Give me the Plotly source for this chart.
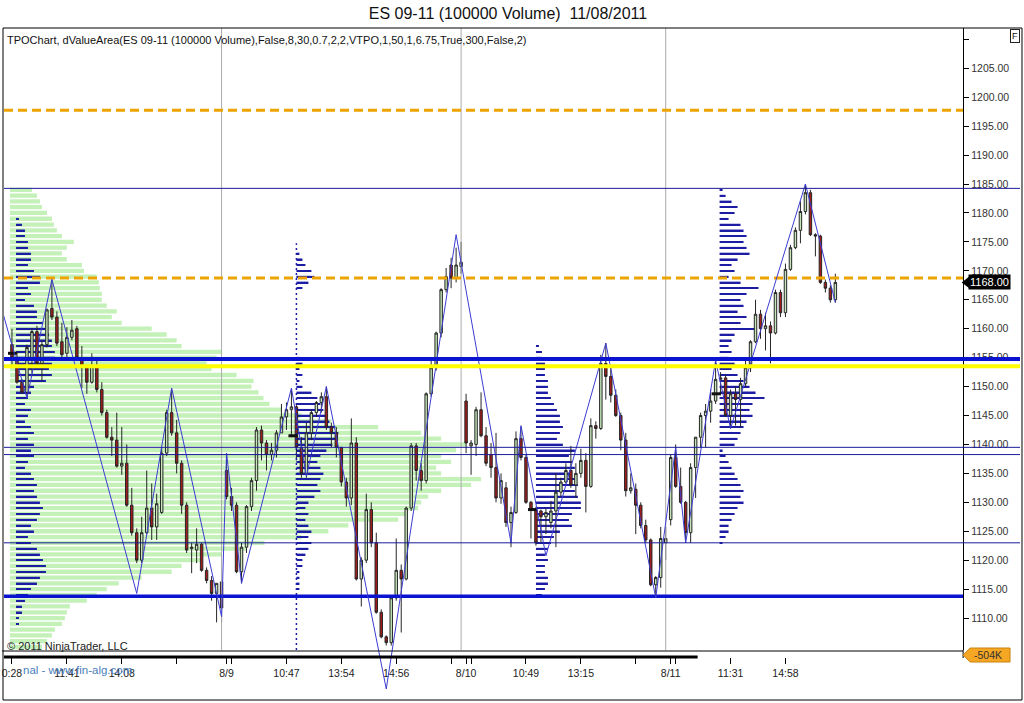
import plotly.graph_objects as go

# ---------------- data ----------------
bar_open = [1157.25, 1155.0, 1150.75, 1149.0, 1155.0, 1159.5, 1154.0, 1157.25, 1163.5, 1162.0,
            1157.75, 1155.75, 1158.5, 1160.0, 1155.0, 1153.5, 1150.75, 1153.5, 1149.5, 1145.5,
            1141.25, 1140.75, 1136.25, 1136.75, 1129.5, 1124.75, 1120.0, 1124.75, 1129.0, 1125.75,
            1128.25, 1138.5, 1145.5, 1142.0, 1136.75, 1129.5, 1122.0, 1121.75, 1122.75, 1118.25,
            1116.5, 1114.25, 1116.25, 1135.5, 1131.0, 1129.5, 1118.0, 1122.25, 1129.25, 1133.75,
            1142.5, 1140.25, 1138.25, 1139.0, 1142.0, 1144.75, 1146.0, 1146.5, 1139.5, 1135.0,
            1142.0, 1145.5, 1147.25, 1148.25, 1143.0, 1142.0, 1139.5, 1133.5, 1130.75, 1140.25,
            1116.75, 1120.0, 1128.75, 1123.0, 1111.0, 1106.75, 1105.75, 1113.5, 1118.25, 1116.75,
            1129.0, 1139.75, 1135.5, 1133.75, 1148.75, 1153.25, 1159.25, 1166.75, 1171.0, 1168.75,
            1170.75, 1147.5, 1139.75, 1140.0, 1146.0, 1141.5, 1138.25, 1136.0, 1130.75, 1132.5,
            1126.5, 1128.25, 1141.0, 1137.75, 1130.0, 1128.75, 1128.5, 1127.5, 1126.5, 1128.5,
            1131.75, 1133.5, 1135.5, 1133.0, 1135.0, 1137.25, 1132.75, 1143.25, 1142.75, 1154.0,
            1151.75, 1148.5, 1145.0, 1140.75, 1132.0, 1132.25, 1129.5, 1126.0, 1123.5, 1115.75,
            1117.0, 1123.0, 1127.0, 1137.75, 1132.75, 1130.0, 1124.75, 1136.0, 1141.25, 1145.0,
            1145.75, 1147.5, 1151.25, 1151.5, 1145.0, 1148.75, 1147.75, 1150.5, 1153.25, 1157.75,
            1162.5, 1160.0, 1160.5, 1159.25, 1166.25, 1162.75, 1170.25, 1174.0, 1177.0, 1180.25,
            1183.5, 1176.25, 1176.0, 1168.0, 1167.0, 1165.0]
bar_high = [1160.0, 1156.0, 1151.25, 1157.25, 1160.0, 1160.5, 1158.0, 1163.5, 1168.5, 1163.0,
            1161.0, 1160.25, 1161.5, 1160.5, 1157.0, 1153.75, 1155.75, 1154.5, 1150.75, 1146.0,
            1143.0, 1145.5, 1143.0, 1140.0, 1132.5, 1125.5, 1127.5, 1135.5, 1133.25, 1131.5,
            1139.5, 1146.0, 1149.5, 1144.25, 1137.25, 1130.0, 1123.0, 1125.5, 1123.0, 1118.75,
            1117.25, 1116.0, 1116.25, 1138.5, 1132.5, 1130.0, 1123.0, 1129.5, 1134.25, 1143.0,
            1143.25, 1140.75, 1140.25, 1142.5, 1147.0, 1147.25, 1149.5, 1147.0, 1141.25, 1143.75,
            1146.0, 1147.5, 1149.0, 1150.0, 1143.75, 1143.0, 1139.5, 1134.25, 1144.5, 1141.25,
            1120.5, 1131.5, 1130.0, 1124.75, 1111.5, 1107.0, 1113.75, 1123.75, 1119.25, 1129.25,
            1140.25, 1140.25, 1136.75, 1149.0, 1154.5, 1159.5, 1167.0, 1170.5, 1172.25, 1174.0,
            1175.0, 1148.75, 1140.75, 1146.5, 1149.0, 1143.0, 1140.25, 1142.0, 1135.0, 1133.5,
            1129.25, 1142.25, 1143.0, 1138.25, 1130.25, 1129.25, 1128.75, 1129.0, 1130.25, 1135.0,
            1134.25, 1136.75, 1139.75, 1136.75, 1139.25, 1138.5, 1144.5, 1144.0, 1155.5, 1157.5,
            1153.25, 1149.5, 1145.5, 1142.0, 1135.0, 1133.25, 1130.0, 1127.0, 1123.75, 1117.25,
            1125.75, 1125.75, 1138.25, 1140.0, 1136.0, 1130.25, 1136.75, 1141.25, 1145.5, 1147.0,
            1149.5, 1154.5, 1152.5, 1152.0, 1149.5, 1150.0, 1151.5, 1155.0, 1158.0, 1165.0,
            1163.25, 1162.75, 1161.25, 1166.75, 1166.75, 1171.25, 1174.5, 1177.5, 1182.0, 1185.0,
            1184.0, 1176.5, 1176.25, 1168.5, 1167.5, 1169.5]
bar_low = [1153.5, 1150.5, 1148.75, 1148.0, 1152.25, 1153.5, 1151.0, 1156.75, 1161.5, 1157.0,
           1155.0, 1155.0, 1158.0, 1154.5, 1149.75, 1148.75, 1150.5, 1149.0, 1145.0, 1141.0,
           1138.0, 1136.0, 1134.75, 1129.25, 1124.25, 1119.5, 1119.5, 1124.5, 1123.5, 1123.5,
           1128.0, 1138.0, 1141.5, 1135.0, 1128.0, 1121.25, 1117.75, 1119.5, 1118.0, 1116.0,
           1113.0, 1109.25, 1109.25, 1130.5, 1128.5, 1117.75, 1116.0, 1121.25, 1128.5, 1132.0,
           1137.25, 1135.5, 1137.25, 1137.75, 1142.0, 1142.5, 1141.25, 1137.25, 1134.25, 1134.25,
           1140.75, 1144.75, 1145.5, 1142.5, 1139.5, 1137.75, 1132.75, 1129.25, 1129.5, 1116.5,
           1112.0, 1119.5, 1122.25, 1110.75, 1106.5, 1105.25, 1105.25, 1113.0, 1107.5, 1116.5,
           1128.5, 1133.75, 1132.0, 1133.25, 1148.25, 1152.75, 1158.5, 1166.25, 1167.0, 1168.0,
           1169.5, 1138.5, 1134.75, 1138.0, 1141.25, 1136.25, 1134.25, 1130.0, 1129.75, 1125.75,
           1122.25, 1128.0, 1137.25, 1129.75, 1123.75, 1122.5, 1123.0, 1124.5, 1125.5, 1122.25,
           1131.0, 1133.25, 1132.5, 1130.75, 1134.25, 1128.25, 1132.5, 1141.0, 1142.5, 1147.75,
           1147.25, 1144.75, 1139.0, 1131.0, 1131.5, 1124.5, 1125.5, 1123.0, 1115.5, 1113.75,
           1115.25, 1120.0, 1126.0, 1132.5, 1129.75, 1123.5, 1123.0, 1130.75, 1139.5, 1139.5,
           1143.75, 1147.0, 1148.5, 1144.75, 1142.75, 1143.25, 1143.0, 1150.0, 1152.5, 1157.5,
           1158.25, 1156.25, 1154.0, 1159.0, 1162.0, 1162.0, 1170.0, 1173.75, 1174.75, 1179.75,
           1176.0, 1172.5, 1167.75, 1166.25, 1164.5, 1164.5]
bar_close = [1155.0, 1150.75, 1149.0, 1156.75, 1159.5, 1154.0, 1157.25, 1163.25, 1162.0, 1157.5,
             1155.5, 1158.5, 1159.75, 1155.0, 1153.5, 1150.75, 1153.5, 1149.5, 1145.5, 1141.25,
             1140.75, 1136.25, 1136.75, 1129.5, 1124.75, 1120.0, 1124.75, 1129.0, 1125.75, 1129.75,
             1138.5, 1145.5, 1142.0, 1136.75, 1129.5, 1121.75, 1122.25, 1122.75, 1118.25, 1116.5,
             1114.25, 1116.0, 1111.75, 1131.0, 1129.5, 1118.0, 1122.25, 1129.25, 1133.75, 1142.5,
             1140.25, 1138.25, 1139.0, 1142.0, 1144.75, 1146.0, 1146.5, 1139.5, 1135.0, 1142.0,
             1145.5, 1147.25, 1148.25, 1143.0, 1142.0, 1139.5, 1133.5, 1130.75, 1140.25, 1116.75,
             1120.0, 1128.75, 1123.0, 1111.0, 1106.75, 1105.75, 1113.5, 1118.25, 1116.75, 1129.0,
             1139.75, 1135.5, 1133.75, 1148.75, 1153.25, 1159.25, 1166.75, 1169.0, 1168.75, 1171.0,
             1171.5, 1140.25, 1140.25, 1146.0, 1141.5, 1136.75, 1136.0, 1130.75, 1133.75, 1126.5,
             1128.25, 1141.0, 1137.75, 1130.0, 1128.75, 1123.0, 1127.5, 1128.25, 1128.5, 1131.75,
             1133.5, 1135.5, 1133.0, 1135.0, 1137.25, 1132.75, 1143.25, 1142.75, 1154.0, 1151.75,
             1148.5, 1145.0, 1140.75, 1132.0, 1132.5, 1129.5, 1126.0, 1123.5, 1115.75, 1117.0,
             1123.75, 1123.75, 1137.75, 1132.75, 1130.0, 1124.75, 1136.0, 1141.25, 1145.0, 1145.75,
             1147.5, 1151.25, 1151.5, 1145.0, 1148.75, 1147.75, 1150.5, 1153.25, 1157.75, 1162.5,
             1160.0, 1160.5, 1159.25, 1166.25, 1162.75, 1170.25, 1174.0, 1177.0, 1180.25, 1183.5,
             1176.25, 1176.0, 1168.0, 1167.0, 1165.0, 1168.0]

session_breaks = [42, 90, 131]

time_tick_pos = [0, 11, 22, 33, 43, 44, 55, 66, 77, 88, 91, 92, 103, 114, 125, 132, 133, 144, 155]
time_tick_text = ["0:28", "11:41", "14:08", "", "8/9", "", "10:47", "13:54", "14:56", "",
                  "8/10", "", "10:49", "13:15", "", "8/11", "", "11:31", "14:58"]

price_ticks = [1110, 1115, 1120, 1125, 1130, 1135, 1140, 1145, 1150, 1155, 1160, 1165,
               1170, 1175, 1180, 1185, 1190, 1195, 1200, 1205, 1210]

zigzag_x = [-2, 3, 8, 25, 32, 42, 43, 46, 56, 59, 63, 75, 89, 100, 102, 107, 119, 129,
            133, 135, 141, 144, 159, 165]
zigzag_y = [1163.25, 1148.0, 1168.5, 1114.25, 1149.75, 1110.25, 1138.5, 1116.0, 1149.75,
            1134.5, 1150.0, 1097.75, 1176.25, 1123.0, 1143.25, 1120.75, 1157.5, 1113.5,
            1139.5, 1123.0, 1154.5, 1142.75, 1185.0, 1164.5]

# volume profile (one row per point, from 1105 up to 1184)
vp_low_price = 1105
vp_volume = [32, 37, 42, 45, 52, 55, 57, 60, 77, 87, 97,
             109, 132, 162, 172, 192, 212, 237, 255, 292, 319,
             339, 389, 397, 409, 412, 419, 432, 462, 472, 432,
             427, 442, 432, 447, 457, 432, 412, 369, 322, 292,
             272, 260, 254, 249, 242, 244, 227, 202, 197, 207,
             212, 172, 167, 157, 142, 112, 102, 107, 97, 92,
             92, 90, 89, 87, 74, 72, 57, 52, 57, 64,
             52, 47, 44, 42, 37, 32, 30, 27, 22]

# TPO profiles: counts per point, listed from the top price downward
tpo1_top = 1179
tpo1_counts = [1, 2, 3, 3, 4, 4, 5, 5, 4, 6, 8, 8, 4, 5, 3, 6, 7, 7, 9, 10,
               11, 12, 12, 13, 13, 12, 11, 12, 10, 6, 5, 4, 3, 5, 4, 3, 5, 6, 4, 6,
               5, 6, 4, 3, 5, 6, 7, 6, 7, 8, 9, 8, 7, 5, 6, 4, 5, 7, 8, 9,
               10, 10, 8, 7, 5, 4, 3, 2, 2, 1, 1]
tpo2_top = 1174
tpo2_counts = [0, 1, 2, 3, 5, 6, 4, 2, 0, 0, 0, 0, 0, 0, 0, 0, 0, 0, 0, 1,
               2, 1, 2, 1, 2, 5, 7, 8, 9, 10, 11, 13, 14, 13, 12, 10, 8, 7, 8, 9,
               8, 7, 8, 6, 4, 3, 4, 3, 4, 5, 4, 5, 4, 3, 2, 2, 1, 1, 1, 1]
tpo3_top = 1157
tpo3_counts = [1, 2, 2, 3, 3, 3, 4, 4, 4, 5, 6, 7, 8, 8, 9, 8, 7, 9, 13, 11,
               12, 13, 12, 13, 14, 13, 14, 15, 15, 12, 11, 12, 8, 6, 5, 4, 3, 4, 3, 3,
               4, 4, 3, 2]
tpo4_top = 1184
tpo4_counts = [1, 2, 4, 6, 5, 3, 7, 8, 9, 8, 9, 10, 6, 4, 5, 3, 7, 13, 9, 7,
               8, 6, 9, 7, 12, 5, 4, 3, 4, 3, 5, 4, 6, 8, 10, 12, 15, 11, 10, 11,
               9, 8, 7, 6, 5, 1, 2, 3, 4, 5, 6, 7, 8, 7, 8, 6, 5, 4, 3, 3, 2, 1]
poc_prices = [1155.75, 1141.5, 1128.75, 1148.75]

orange_levels = [1197.75, 1168.75]
navy_levels = [1184.25, 1139.5, 1138.25, 1123.0]
thick_wide_levels = [1154.75]
thick_levels = [1113.75]
yellow_levels = [1153.5]
last_price = 1168.00

# ---------------- geometry / styles ----------------
X_MIN, X_MAX = -1.6, 190.6
Y_MIN, Y_MAX = 1104.48, 1211.96
Y2_MIN = 1095.84
X_DOM = 961 / 1018
Y_DOM0 = 50 / 672
VP_START = -0.4
VP_SCALE = 0.2
TPO_SCALE = 0.6
tpo_starts = [0.8, 57, 105, 141.8]
FONT = "Liberation Sans, Arial, sans-serif"
TPO_COLOR = "#1c1ca4"

fig = go.Figure()

# volume profile
vp_prices = [vp_low_price + k for k in range(len(vp_volume))]
fig.add_trace(go.Bar(orientation="h", y=vp_prices, x=[v * VP_SCALE for v in vp_volume],
                     base=VP_START, width=0.74,
                     marker=dict(color="#c4f1b8", line=dict(width=0)), hoverinfo="skip"))

# TPO profiles
tpos = [(tpo1_top, tpo1_counts), (tpo2_top, tpo2_counts), (tpo3_top, tpo3_counts), (tpo4_top, tpo4_counts)]
for start, (top, counts) in zip(tpo_starts, tpos):
    prices = [top - k for k in range(len(counts))]
    fig.add_trace(go.Bar(orientation="h", y=prices, x=[c * TPO_SCALE for c in counts],
                         base=start, width=0.27,
                         marker=dict(color=TPO_COLOR, line=dict(width=0)), hoverinfo="skip"))

# candles
bar_x = list(range(len(bar_open)))
fig.add_trace(go.Candlestick(
    x=bar_x, open=bar_open, high=bar_high, low=bar_low, close=bar_close,
    increasing=dict(fillcolor="#c4e6b9", line=dict(color="#262626", width=1)),
    decreasing=dict(fillcolor="#a31c1c", line=dict(color="#262626", width=1)),
    whiskerwidth=0, hoverinfo="skip"))

# session breaks
sx, sy = [], []
for b in session_breaks:
    sx += [b, b, None]
    sy += [Y_MIN, Y_MAX, None]
fig.add_trace(go.Scatter(x=sx, y=sy, mode="lines", line=dict(color="#ababab", width=1), hoverinfo="skip"))

# dotted single-print line of the second profile
fig.add_trace(go.Scatter(x=[tpo_starts[1], tpo_starts[1]], y=[Y_MIN, tpo2_top + 0.75], mode="lines",
                         line=dict(color=TPO_COLOR, width=1.5, dash="2px,3px"), hoverinfo="skip"))

# POC markers
px_, py_ = [], []
for start, p in zip(tpo_starts, poc_prices):
    px_ += [start - 1.6, start + 0.2, None]
    py_ += [p, p, None]
fig.add_trace(go.Scatter(x=px_, y=py_, mode="lines", line=dict(color="#111111", width=3), hoverinfo="skip"))

# horizontal levels
def hlines(levels, xref_range, color, width, dash=None, xaxis="x"):
    xs, ys = [], []
    for lv in levels:
        xs += [xref_range[0], xref_range[1], None]
        ys += [lv, lv, None]
    fig.add_trace(go.Scatter(x=xs, y=ys, mode="lines", xaxis=xaxis, yaxis="y",
                             line=dict(color=color, width=width, dash=dash), hoverinfo="skip"))

hlines(orange_levels, (X_MIN, X_MAX), "#eea400", 3, dash="9px,5px")
hlines(thick_levels, (X_MIN, X_MAX), "#0a14d0", 3.5)
hlines(navy_levels, (0, 1), "#1b1b9a", 1, xaxis="x2")
hlines(thick_wide_levels, (0, 1), "#0a14d0", 4, xaxis="x2")
hlines(yellow_levels, (0, 1), "#ffff00", 4, xaxis="x2")

# zigzag (allowed to run below the price panel)
fig.add_trace(go.Scatter(x=zigzag_x, y=zigzag_y, mode="lines", xaxis="x", yaxis="y2",
                         line=dict(color="#3c3cd2", width=1), hoverinfo="skip"))

# last price marker tip
fig.add_trace(go.Scatter(x=[X_DOM + 0.004], y=[last_price], mode="markers", xaxis="x2", yaxis="y",
                         marker=dict(symbol="triangle-left", size=11, color="black"), hoverinfo="skip"))

def pxx(p):  # paper x from screen pixel
    return (p - 2) / 1018

def pxy(p):  # paper y from screen pixel
    return (700 - p) / 672

shapes = [
    dict(type="rect", xref="paper", yref="paper", x0=pxx(1), x1=pxx(1022), y0=0, y1=1,
         line=dict(color="black", width=1)),
    dict(type="line", xref="paper", yref="paper", x0=pxx(0), x1=X_DOM, y0=pxy(651), y1=pxy(651),
         line=dict(color="black", width=1)),
    dict(type="line", xref="paper", yref="paper", x0=pxx(2), x1=pxx(697), y0=pxy(657), y1=pxy(657),
         line=dict(color="black", width=3)),
    dict(type="line", xref="paper", yref="paper", x0=X_DOM, x1=X_DOM, y0=pxy(658), y1=Y_DOM0,
         line=dict(color="black", width=1)),
    dict(type="path", xref="paper", yref="paper",
         path=f"M {X_DOM},{pxy(655)} L {pxx(970)},{pxy(648)} L {pxx(1010)},{pxy(648)} "
              f"L {pxx(1010)},{pxy(662)} L {pxx(970)},{pxy(662)} Z",
         fillcolor="#f5a623", line=dict(color="#c98210", width=1)),
]

annotations = [
    dict(xref="paper", yref="paper", x=pxx(3), y=pxy(40), xanchor="left", yanchor="middle",
         text="TPOChart, dValueArea(ES 09-11 (100000 Volume),False,8,30,0.7,2,2,VTPO,1,50,1,6.75,True,300,False,2)",
         showarrow=False, font=dict(family=FONT, size=11, color="#111")),
    dict(xref="paper", yref="paper", x=pxx(1015), y=pxy(35.5), xanchor="center", yanchor="middle",
         text="F", showarrow=False, font=dict(family=FONT, size=9, color="#111"),
         bordercolor="#222", borderwidth=1, borderpad=1, bgcolor="white"),
    dict(xref="paper", yref="paper", x=pxx(3), y=pxy(646), xanchor="left", yanchor="middle",
         text="\u00a9 2011 NinjaTrader, LLC", showarrow=False, font=dict(family=FONT, size=11, color="#222")),
    dict(xref="paper", yref="paper", x=pxx(19), y=pxy(670), xanchor="left", yanchor="middle",
         text="nal - www.fin-alg.com", showarrow=False, font=dict(family=FONT, size=11.5, color="#4a7ebb")),
    dict(xref="paper", yref="y", x=pxx(968), y=last_price, xanchor="left", yanchor="middle",
         text=f"{last_price:.2f}", showarrow=False, font=dict(family=FONT, size=11, color="white"),
         bgcolor="black", borderpad=1),
    dict(xref="paper", yref="paper", x=pxx(972), y=pxy(655), xanchor="left", yanchor="middle",
         text="-504K", showarrow=False, font=dict(family=FONT, size=10.5, color="#333")),
]

fig.update_layout(
    width=1024, height=703,
    margin=dict(l=2, r=4, t=28, b=3),
    paper_bgcolor="white", plot_bgcolor="rgba(0,0,0,0)",
    showlegend=False, hovermode=False, barmode="overlay",
    title=dict(text="ES 09-11 (100000 Volume) \u00a011/08/2011", x=508 / 1024, xref="container",
               y=1 - 13 / 703, yref="container", xanchor="center", yanchor="middle",
               font=dict(family=FONT, size=16, color="#111")),
    xaxis=dict(domain=[0, X_DOM], range=[X_MIN, X_MAX], anchor="free", position=pxy(657),
               showgrid=False, zeroline=False, showline=False,
               tickmode="array", tickvals=time_tick_pos, ticktext=time_tick_text,
               ticks="outside", ticklen=6, tickwidth=1, tickcolor="black",
               ticklabeloverflow="allow",
               tickfont=dict(family=FONT, size=10.5, color="#222"),
               rangeslider=dict(visible=False), fixedrange=True),
    yaxis=dict(domain=[Y_DOM0, 1], range=[Y_MIN, Y_MAX], side="right", anchor="x",
               showgrid=False, zeroline=False, showline=True, linecolor="black", linewidth=1,
               tickmode="array", tickvals=price_ticks,
               ticktext=[f"{t:.2f}" if t < 1210 else "" for t in price_ticks],
               ticks="outside", ticklen=5, tickcolor="black",
               tickfont=dict(family=FONT, size=10.5, color="#333"), fixedrange=True),
    yaxis2=dict(domain=[0, 1], range=[Y2_MIN, Y_MAX], anchor="x", visible=False, fixedrange=True),
    xaxis2=dict(domain=[0, 1], range=[0, 1], anchor="y", visible=False, fixedrange=True),
    shapes=shapes, annotations=annotations,
)

fig.write_html("out.html", config={"displayModeBar": False},
               post_script="document.body.style.margin='0';document.body.style.padding='0';")
